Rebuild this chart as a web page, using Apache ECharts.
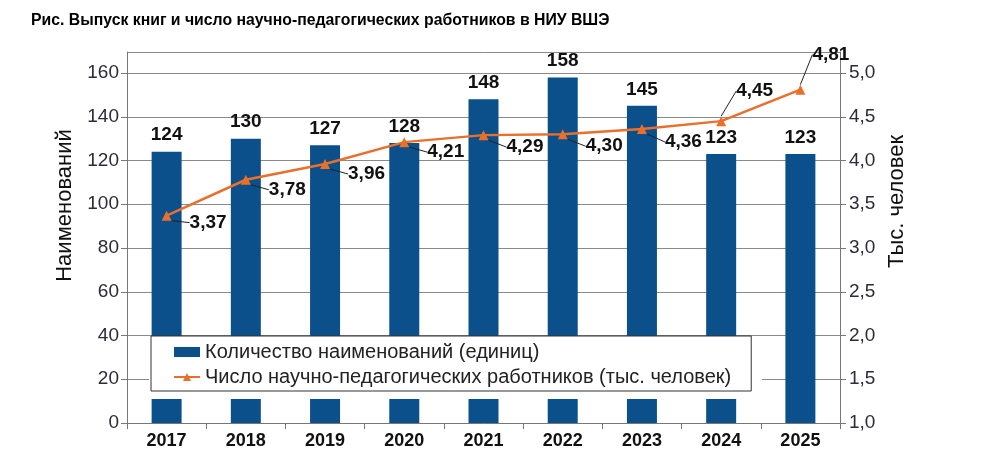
<!DOCTYPE html>
<html>
<head>
<meta charset="utf-8">
<script src="https://cdn.jsdelivr.net/npm/echarts@6/dist/echarts.min.js"></script>
<style>
  html, body { margin: 0; padding: 0; background: #fff; }
  #chart { width: 1000px; height: 467px; }
</style>
</head>
<body>
<div id="chart"></div>
<script>
// данные
const years = ['2017', '2018', '2019', '2020', '2021', '2022', '2023', '2024', '2025'];
const books = [124, 130, 127, 128, 148, 158, 145, 123, 123];
const staff = [3.37, 3.78, 3.96, 4.21, 4.29, 4.30, 4.36, 4.45, 4.81];

const barName = 'Количество наименований (единиц)';
const lineName = 'Число научно-педагогических работников (тыс. человек)';

// сдвиги подписей линии (выноски)
const staffLabelShift = [
  [14, 7], [14, 10], [14, 10], [14, 10], [14, 12], [14, 12], [14, 13], [6, -30], [3, -35]
];

const comma = (v, d) => v.toFixed(d).replace('.', ',');

const chart = echarts.init(document.getElementById('chart'));
chart.setOption({
  animation: false,
  title: {
    text: 'Рис. Выпуск книг и число научно-педагогических работников в НИУ ВШЭ',
    left: 26,
    top: 8,
    textStyle: { fontFamily: 'Liberation Sans', fontSize: 15.8, fontWeight: 'bold', color: '#000' }
  },
  grid: { left: 127, right: 160, top: 52, bottom: 44 },
  legend: {
    orient: 'vertical',
    left: 151,
    top: 336,
    padding: [6, 20, 4, 22],
    itemGap: 5,
    itemWidth: 26,
    itemHeight: 10,
    backgroundColor: '#fff',
    borderColor: '#333',
    borderWidth: 1,
    textStyle: { fontFamily: 'Liberation Sans', fontSize: 20, color: '#222' },
    data: [{ name: barName, icon: 'rect' }, { name: lineName }]
  },
  graphic: [{
    type: 'rect',
    z: 3,
    left: 149,
    top: 338,
    shape: { width: 613, height: 61 },
    style: { fill: '#fff' }
  }],
  xAxis: {
    type: 'category',
    data: years,
    axisLine: { lineStyle: { color: '#777' } },
    axisTick: { show: true, length: 6, lineStyle: { color: '#777' } },
    axisLabel: {
      margin: 9,
      fontFamily: 'Liberation Sans',
      fontSize: 18,
      fontWeight: 'bold',
      color: '#111'
    }
  },
  yAxis: [{
    type: 'value',
    min: 0,
    max: 160 * 371 / 350,
    interval: 20,
    name: 'Наименований',
    nameLocation: 'middle',
    nameRotate: 90,
    nameGap: 50,
    nameTextStyle: { fontFamily: 'Liberation Sans', fontSize: 22, color: '#111', padding: [0, 0, 0, 64] },
    axisLine: { show: true, lineStyle: { color: '#777' } },
    axisTick: { show: true, length: 6, lineStyle: { color: '#777' } },
    axisLabel: { showMaxLabel: false, margin: 8, fontFamily: 'Liberation Sans', fontSize: 19, color: '#2b2b3a' },
    splitLine: { show: true, lineStyle: { color: '#8a8a8a' } }
  }, {
    type: 'value',
    min: 1,
    max: 1 + 4 * 371 / 350,
    interval: 0.5,
    position: 'right',
    name: 'Тыс. человек',
    nameLocation: 'middle',
    nameRotate: 90,
    nameGap: 45,
    nameTextStyle: { fontFamily: 'Liberation Sans', fontSize: 22, color: '#111', padding: [0, 0, 0, 72] },
    axisLine: { show: true, lineStyle: { color: '#777' } },
    axisTick: { show: true, length: 6, lineStyle: { color: '#777' } },
    axisLabel: {
      showMaxLabel: false,
      margin: 9,
      fontFamily: 'Liberation Sans',
      fontSize: 19,
      color: '#2b2b3a',
      formatter: v => comma(v, 1)
    },
    splitLine: { show: false }
  }],
  series: [{
    name: barName,
    type: 'bar',
    data: books,
    barWidth: 30,
    itemStyle: { color: '#0b508b' },
    label: {
      show: true,
      position: 'top',
      distance: 7,
      fontFamily: 'Liberation Sans',
      fontSize: 19,
      fontWeight: 'bold',
      color: '#111'
    }
  }, {
    name: lineName,
    type: 'line',
    yAxisIndex: 1,
    data: staff,
    symbol: 'triangle',
    symbolSize: 10,
    itemStyle: { color: '#e8702a' },
    lineStyle: { color: '#e8702a', width: 2.5 },
    label: {
      show: true,
      position: 'right',
      distance: 4,
      fontFamily: 'Liberation Sans',
      fontSize: 19,
      fontWeight: 'bold',
      color: '#111',
      formatter: p => comma(p.value, 2)
    },
    labelLine: { show: true, lineStyle: { color: '#222', width: 1 } },
    labelLayout: p => ({ dx: staffLabelShift[p.dataIndex][0], dy: staffLabelShift[p.dataIndex][1] })
  }]
});
</script>
</body>
</html>
